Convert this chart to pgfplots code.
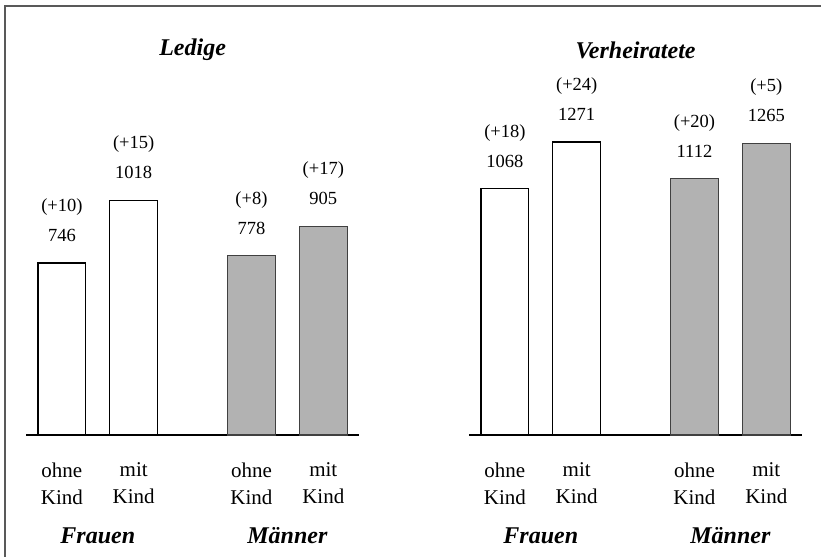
\documentclass[border=0pt]{standalone}
\usepackage{fontspec}
\setmainfont{Liberation Serif}
\usepackage{pgfplots}
\pgfplotsset{compat=1.18}
\usepackage{pgfplotstable}

% x = bar position, y = value, d = change in brackets
\pgfplotstableread{
x y d
0 746 10
1 1018 15
}\ledigeF
\pgfplotstableread{
x y d
2.64 778 8
3.64 905 17
}\ledigeM
\pgfplotstableread{
x y d
0 1068 18
1 1271 24
}\verhF
\pgfplotstableread{
x y d
2.64 1112 20
3.64 1265 5
}\verhM

\pgfplotsset{
  panel/.style={
    scale only axis, width=166.6pt, height=172.95pt,
    xmin=-0.5, xmax=4.14, ymin=0, ymax=1500,
    ybar, bar width=0.668, bar shift=0pt,
    axis x line*=bottom, hide y axis, clip=false,
    axis line style={black, line width=0.6pt},
    xtick={0,1,2.64,3.64},
    xticklabels={{ohne\\Kind},{mit\\Kind},{ohne\\Kind},{mit\\Kind}},
    xticklabel style={align=center, anchor=north, yshift=-10.5pt,
      font=\fontsize{10.5}{13.5}\selectfont},
    major tick length=0pt,
    point meta=explicit symbolic,
    visualization depends on={\thisrow{d}\as\dd},
    nodes near coords={(+\pgfmathprintnumber[assume math mode=true]{\dd})\\\pgfplotspointmeta},
    every node near coord/.append style={align=center, yshift=7pt,
      font=\fontsize{9.25}{15}\selectfont},
  },
  fr/.style={draw=black, fill=white, line width=0.6pt},
  mn/.style={draw=black!75, fill=black!30, line width=0.6pt},
}
\tikzset{grp/.style={font=\fontsize{12}{14}\selectfont\bfseries\itshape}}

\begin{document}
\begin{tikzpicture}
\useasboundingbox (0,0) rectangle (410.5pt,278.5pt);
\draw[line width=1pt, black!65] (2.25pt,0) -- (2.25pt,275.5pt) -- (410.5pt,275.5pt);

\begin{axis}[panel, at={(13pt,61pt)}, anchor=south west]
\addplot[fr] table[x=x, y=y, meta=y] {\ledigeF};
\addplot[mn] table[x=x, y=y, meta=y] {\ledigeM};
\node[grp] at (rel axis cs:0.5,1) [yshift=19.5pt] {Ledige};
\node[grp] at (axis cs:0.5,0) [yshift=-50.5pt] {Frauen};
\node[grp] at (axis cs:3.14,0) [yshift=-50.5pt] {Männer};
\end{axis}

\begin{axis}[panel, at={(234.5pt,61pt)}, anchor=south west]
\addplot[fr] table[x=x, y=y, meta=y] {\verhF};
\addplot[mn] table[x=x, y=y, meta=y] {\verhM};
\node[grp] at (rel axis cs:0.5,1) [yshift=19.5pt] {Verheiratete};
\node[grp] at (axis cs:0.5,0) [yshift=-50.5pt] {Frauen};
\node[grp] at (axis cs:3.14,0) [yshift=-50.5pt] {Männer};
\end{axis}
\end{tikzpicture}
\end{document}
